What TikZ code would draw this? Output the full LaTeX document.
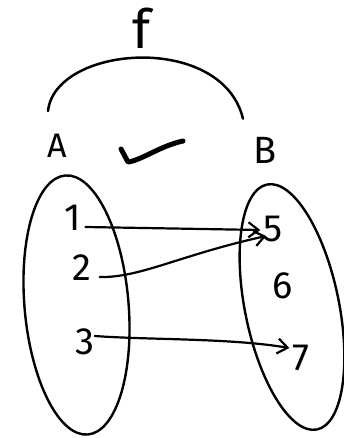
\documentclass[tikz,border=0pt]{standalone}
\usepackage{fontspec}
\setmainfont{Fira Sans}
\usetikzlibrary{arrows.meta,calc}
\begin{document}
\begin{tikzpicture}[x=1pt,y=-1pt,
  lbl/.style={inner sep=0pt,font=\fontsize{38}{38}\selectfont},
  setline/.style={line width=2.4pt},
  mapline/.style={line width=2.2pt,line cap=round,-{Straight Barb[length=10pt,width=15pt,line width=2.2pt]}}]
\useasboundingbox (0,0) rectangle (343,438);
% labels
\node[inner sep=0pt,font=\fontsize{54}{54}\selectfont] (f) at (142,28) {f};
\node[lbl,font=\fontsize{34}{34}\selectfont] (A) at (57,146) {A};
\node[lbl] (B) at (265,150) {B};
\node[lbl] (n1) at (73,218) {1};
\node[lbl] (n2) at (82,268) {2};
\node[lbl] (n3) at (85,342) {3};
\node[lbl] (n5) at (273,229) {5};
\node[lbl] (n6) at (283,286) {6};
\node[lbl] (n7) at (301,358) {7};
% arc labelled f
\draw[setline,line width=2.5pt,line cap=round] ([shift={(-9,-23)}]A.north) .. controls (55,45) and (222,32) .. ([shift={(-22,-18)}]B.north);
% check mark
\draw[line width=5pt,line cap=round,line join=round] (121,149) -- (128,162) .. controls (142,160) and (160,146) .. (183,141);
% sets
\draw[setline] (76.5,305) ellipse [x radius=52, y radius=130, rotate=5];
\draw[setline] (292,307) ellipse [x radius=47, y radius=125, rotate=11.5];
% mapping arrows
\draw[mapline] ([shift={(4,9)}]n1.east) -- ([shift={(-3,1)}]n5.west);
\draw[mapline] ([shift={(8,9)}]n2.east) .. controls (140,278) and (180,255) .. ([shift={(3,7)}]n5.west);
\draw[mapline] ([shift={(0,-6)}]n3.east) .. controls (150,340) and (230,338) .. ([shift={(-3,-10)}]n7.west);
\end{tikzpicture}
\end{document}
